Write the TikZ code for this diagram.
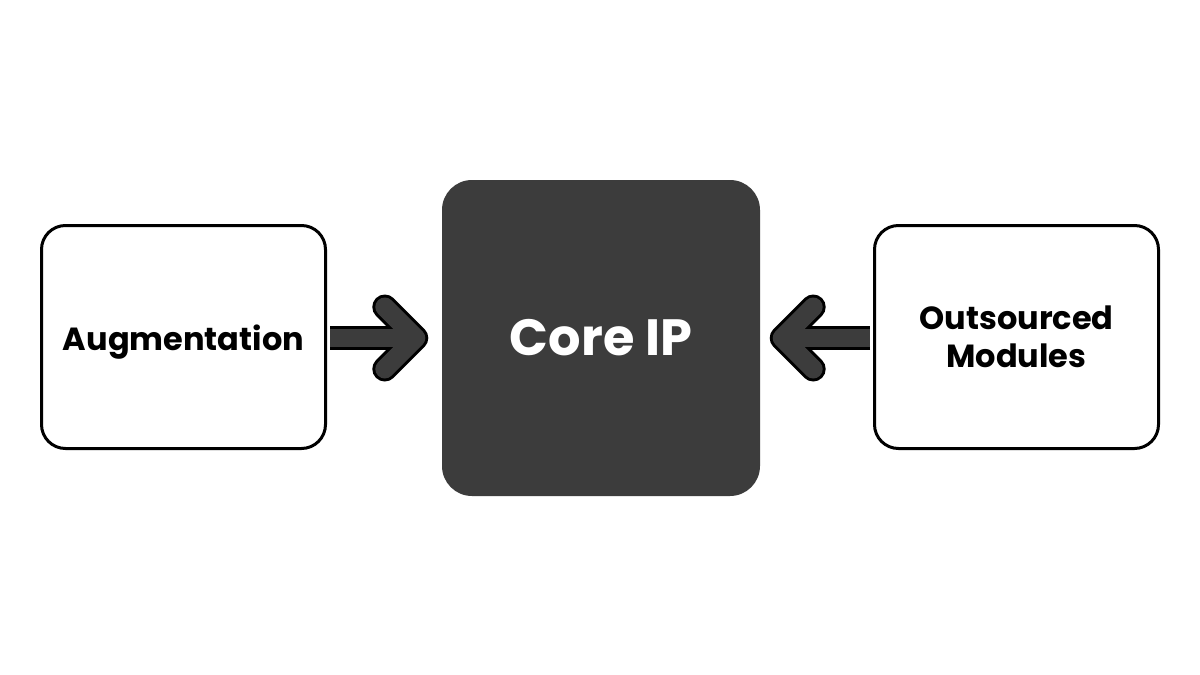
\documentclass[tikz,border=0pt]{standalone}
\usepackage{fontspec}
\setmainfont{Poppins}
\begin{document}
\begin{tikzpicture}[x=1pt,y=-1pt,
  sidebox/.style={draw=black, line width=3pt, fill=white, rounded corners=24pt,
    minimum width=284pt, minimum height=223pt, align=center,
    font=\fontsize{32}{38}\selectfont\bfseries, inner sep=0pt},
  corebox/.style={fill=coregray, rounded corners=30pt,
    minimum width=318pt, minimum height=316pt,
    font=\fontsize{51}{55}\selectfont\bfseries, text=white, inner sep=0pt},
  arrowout/.style={draw=black, line width=25pt, line cap=round, line join=round},
  arrowin/.style={draw=coregray, line width=19pt, line cap=round, line join=round},
  shaftout/.style={draw=black, line width=24pt},
  shaftin/.style={draw=coregray, line width=18pt}
]
\definecolor{coregray}{HTML}{3C3C3C}
\useasboundingbox (0,0) rectangle (1200,675);
\fill[white] (0,0) rectangle (1200,675);

\node[corebox] (core) at (601,338) {Core IP};

% arrows (drawn before side boxes so the box borders cover shaft starts)
\coordinate (ltip) at ([xshift=-26pt]core.west);
\coordinate (rtip) at ([xshift=22pt]core.east);
\coordinate (lstart) at (330,338);
\coordinate (rstart) at (870,338);

\draw[shaftout] (lstart) -- (ltip);
\draw[arrowout] ([shift={(-31pt,-31pt)}]ltip) -- (ltip) -- ([shift={(-31pt,31pt)}]ltip);
\draw[shaftin] (lstart) -- (ltip);
\draw[arrowin] ([shift={(-31pt,-31pt)}]ltip) -- (ltip) -- ([shift={(-31pt,31pt)}]ltip);

\draw[shaftout] (rstart) -- (rtip);
\draw[arrowout] ([shift={(31pt,-31pt)}]rtip) -- (rtip) -- ([shift={(31pt,31pt)}]rtip);
\draw[shaftin] (rstart) -- (rtip);
\draw[arrowin] ([shift={(31pt,-31pt)}]rtip) -- (rtip) -- ([shift={(31pt,31pt)}]rtip);

\node[sidebox, text height=36pt, text depth=10pt] (aug) at (183.5,337) {Augmentation};
\node[sidebox] (out) at (1016.5,337) {Outsourced\\Modules};
\end{tikzpicture}
\end{document}
